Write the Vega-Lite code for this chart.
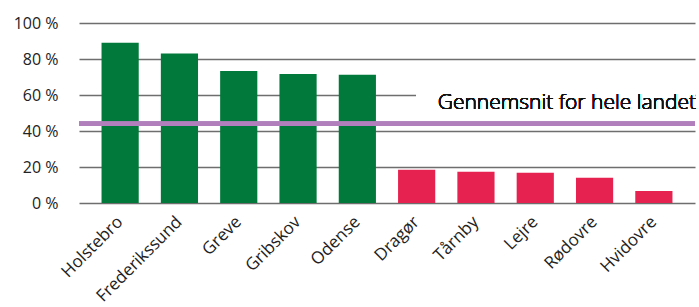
{
  "$schema": "https://vega.github.io/schema/vega-lite/v6.json",
  "autosize": "none",
  "width": 616,
  "height": 180,
  "padding": {"left": 79, "top": 23, "right": 4, "bottom": 104},
  "background": "white",
  "config": {
    "font": "Open Sans",
    "view": {"stroke": null},
    "scale": {"bandPaddingInner": 0.373, "bandPaddingOuter": 0.38},
    "axisY": {
      "values": [0, 10, 20, 30, 40, 50, 60, 70, 80, 90, 100],
      "labelExpr": "datum.value % 20 === 0 ? datum.value + ' %' : ''",
      "labelFontSize": 16, "labelColor": "#222222", "labelPadding": 21,
      "labelFontWeight": "normal",
      "labelOverlap": false,
      "domain": false, "ticks": false, "title": null,
      "grid": true, "gridColor": "#6e6e6e", "gridWidth": 1.5
    },
    "axisX": {
      "labelAngle": -45, "labelAlign": "right", "labelBaseline": "middle",
      "labelFontSize": 17, "labelFontWeight": "normal", "labelColor": "#222222", "labelPadding": 16,
      "labelOverlap": false, "domain": false, "ticks": false, "grid": false, "title": null
    }
  },
  "data": {
    "values": [
      {"kommune": "Holstebro", "andel": 89.0, "gruppe": "over"},
      {"kommune": "Frederikssund", "andel": 83.0, "gruppe": "over"},
      {"kommune": "Greve", "andel": 73.4, "gruppe": "over"},
      {"kommune": "Gribskov", "andel": 71.7, "gruppe": "over"},
      {"kommune": "Odense", "andel": 71.2, "gruppe": "over"},
      {"kommune": "Dragør", "andel": 18.5, "gruppe": "under"},
      {"kommune": "Tårnby", "andel": 17.4, "gruppe": "under"},
      {"kommune": "Lejre", "andel": 16.8, "gruppe": "under"},
      {"kommune": "Rødovre", "andel": 14.0, "gruppe": "under"},
      {"kommune": "Hvidovre", "andel": 6.7, "gruppe": "under"}
    ]
  },
  "layer": [
    {
      "mark": {"type": "bar"},
      "encoding": {
        "x": {"field": "kommune", "type": "nominal", "sort": null, "title": null},
        "y": {
          "field": "andel", "type": "quantitative", "title": null,
          "scale": {"domain": [0, 100], "nice": false}
        },
        "color": {
          "field": "gruppe", "type": "nominal", "legend": null,
          "scale": {"domain": ["over", "under"], "range": ["#00793A", "#E62350"]}
        }
      }
    },
    {
      "mark": {"type": "rect", "color": "white"},
      "encoding": {
        "x": {"datum": "Dragør", "type": "nominal", "bandPosition": 0.5},
        "x2": {"value": "width"},
        "y": {"datum": 48},
        "y2": {"datum": 64}
      }
    },
    {
      "mark": {"type": "rule", "color": "#B07FBC", "strokeWidth": 4},
      "encoding": {"y": {"datum": 44}}
    },
    {
      "mark": {"type": "text", "text": "Gennemsnit for hele landet", "align": "right", "baseline": "alphabetic", "fontSize": 21, "fontWeight": 300, "color": "#111111", "dx": 1},
      "encoding": {
        "x": {"value": "width"},
        "y": {"datum": 52}
      }
    }
  ]
}
